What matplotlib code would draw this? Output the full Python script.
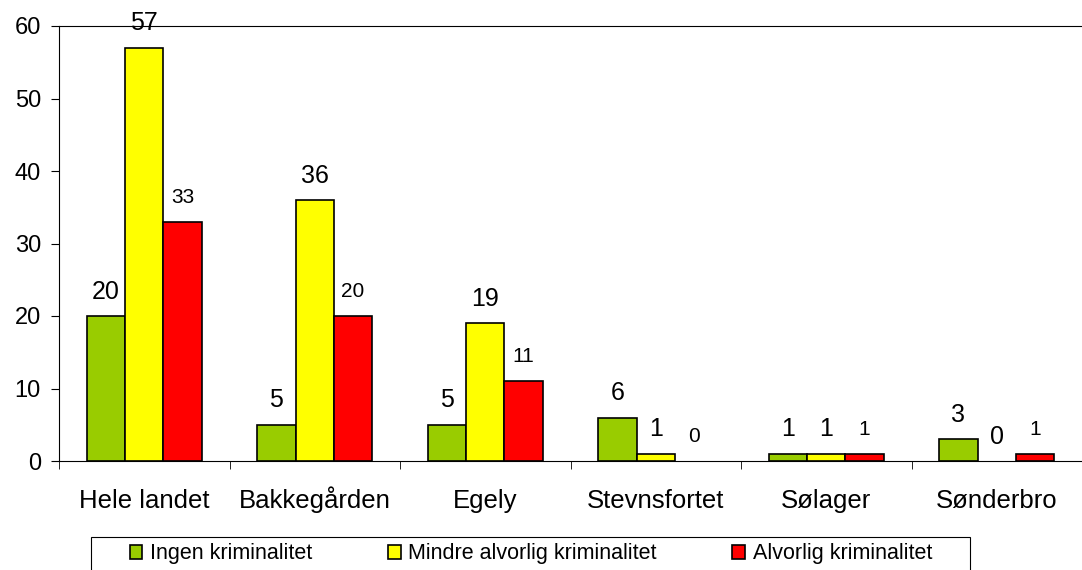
import matplotlib.pyplot as plt
import matplotlib.patches as patches
import numpy as np

plt.rcParams['font.family'] = ['Liberation Sans', 'DejaVu Sans']

omraader = ['Hele landet', 'Bakkegården', 'Egely', 'Stevnsfortet', 'Sølager', 'Sønderbro']
serier = ['Ingen kriminalitet', 'Mindre alvorlig kriminalitet', 'Alvorlig kriminalitet']
ingen = [20, 5, 5, 6, 1, 3]
mindre = [57, 36, 19, 1, 1, 0]
alvorlig = [33, 20, 11, 0, 1, 1]
farver = ['#99CC00', '#FFFF00', '#FF0000']

fig = plt.figure(figsize=(10.82, 5.70), dpi=100)
ax = fig.add_axes([59/1082, 1-461/570, 1-59/1082, (461-26)/570])

x = np.arange(len(omraader))
w = 0.225
for i, (vals, farve) in enumerate(zip([ingen, mindre, alvorlig], farver)):
    pos = x + (i-1)*w
    lw = [1.2 if v > 0 else 0 for v in vals]
    ax.bar(pos, vals, w, color=farve, edgecolor='black', linewidth=lw, label=serier[i])
    fs = 15 if i == 2 else 18
    for p, v in zip(pos, vals):
        ax.annotate(str(v), (p, v), xytext=(0, 17.5), textcoords='offset points',
                    ha='center', va='center', fontsize=fs)

ax.set_xlim(-0.5, len(omraader)-0.5)
ax.set_ylim(0, 60)
ax.set_yticks(range(0, 61, 10))
ax.set_xticks(x)
ax.set_xticklabels(omraader, fontsize=18.5)
for lab in ax.get_xticklabels():
    lab.set_va('baseline')
ax.set_xticks(np.arange(-0.5, len(omraader), 1), minor=True)
ax.tick_params(axis='x', which='major', length=0, pad=34)
ax.tick_params(axis='x', which='minor', length=6, direction='out')
ax.tick_params(axis='y', labelsize=17, length=6, pad=7)
ax.spines['right'].set_visible(False)

# legend: entries without frame, box drawn separately
leg = fig.legend(loc='center left', bbox_to_anchor=(130/1082, 1-554/570),
                 ncol=3, fontsize=15.5, frameon=False, borderpad=0, borderaxespad=0,
                 handlelength=0.58, handleheight=0.58, handletextpad=0.37,
                 columnspacing=3.5)
fig.patches.append(patches.Rectangle((91/1082, -0.01), (970-91)/1082, 0.01+(570-537)/570,
                                     transform=fig.transFigure, fill=False,
                                     edgecolor='black', linewidth=0.8))

plt.savefig('out.png')
